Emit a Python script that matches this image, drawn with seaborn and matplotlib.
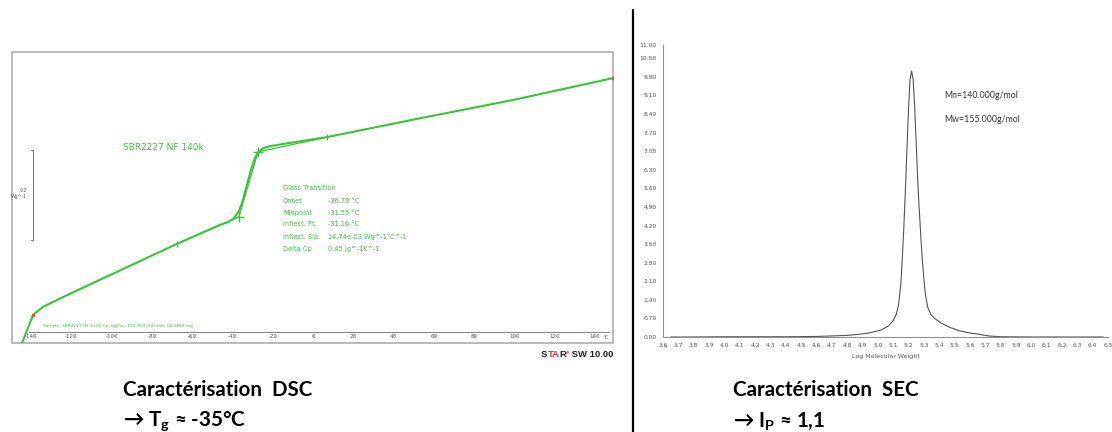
import numpy as np
import pandas as pd
import matplotlib
matplotlib.use("Agg")
import matplotlib.pyplot as plt
from matplotlib.lines import Line2D
from matplotlib.patches import Rectangle
import seaborn as sns

# ---------------- data ----------------
# DSC curve: temperature (°C) and heat flow (W/g, arbitrary offset)
dsc_temp = [-144.5, -142.0, -139.0, -134.1, -122.1, -105.8, -67.5, -46.2, -42.2,
            -39.2, -36.7, -34.8, -32.8, -30.8, -28.8, -26.8, -24.3, -21.4, 7.0,
            50.0, 100.0, 149.0]
dsc_heat = [-0.024, 0.004, 0.038, 0.056, 0.082, 0.116, 0.196, 0.238, 0.244,
            0.253, 0.269, 0.293, 0.327, 0.360, 0.387, 0.402, 0.409, 0.413, 0.433,
            0.472, 0.516, 0.564]
# Tangent construction (baseline before, inflection tangent, baseline after)
tan_temp = [-67.5, -36.79, -27.3, 7.0]
tan_heat = [0.196, 0.256, 0.400, 0.433]
limit_temp = [-67.5, 7.0]
limit_heat = [0.196, 0.433]
dsc_xticks = list(range(-140, 141, 20))
scale_bar = 0.2  # W/g
gt_labels = ["Glass Transition", "Onset", "Midpoint", "Inflect. Pt.", "Inflect. Slp.", "Delta Cp"]
gt_values = ["", "-36.79 °C", "-31.55 °C", "-31.16 °C", "14.74e-03 Wg^-1°C^-1", "0.45 Jg^-1K^-1"]

# SEC curve: log molecular weight and detector response
sec_logm = [3.65, 3.8, 4.0, 4.2, 4.4, 4.6, 4.7, 4.8, 4.89, 4.95, 5.02, 5.07, 5.10,
            5.12, 5.135, 5.15, 5.16, 5.17, 5.18, 5.19, 5.20, 5.21, 5.22, 5.23,
            5.24, 5.25, 5.26, 5.27, 5.28, 5.29, 5.30, 5.31, 5.325, 5.345, 5.37,
            5.41, 5.47, 5.54, 5.60, 5.65, 5.72, 5.80, 6.0, 6.2, 6.47]
sec_resp = [0.0, 0.0, 0.01, 0.01, 0.01, 0.02, 0.04, 0.06, 0.11, 0.16, 0.26, 0.42, 0.62,
            0.85, 1.2, 2.0, 3.0, 4.2, 5.6, 7.1, 8.6, 9.7, 10.02, 9.7,
            8.7, 7.3, 5.9, 4.8, 3.8, 2.9, 2.2, 1.6, 1.13, 0.85, 0.70,
            0.53, 0.36, 0.22, 0.15, 0.11, 0.04, 0.01, 0.0, 0.0, 0.0]
sec_xticks = [round(3.6 + 0.1 * i, 1) for i in range(30)]
sec_yticks = [round(0.7 * i, 2) for i in range(16)] + [11.0]

# ---------------- style ----------------
sns.set_style("white")
plt.rcParams["font.family"] = ["DejaVu Sans"]
plt.rcParams["mathtext.fontset"] = "custom"
plt.rcParams["mathtext.rm"] = "Lato:bold"
plt.rcParams["mathtext.default"] = "rm"

W, H = 1112, 432
fig = plt.figure(figsize=(W / 100, H / 100), dpi=100)
green = "#3ac43a"

# ---------------- DSC panel ----------------
ax1 = fig.add_axes([12 / W, (H - 343) / H, 601 / W, 291 / H])
ax1.set_xlim(-149.5, 149)
ax1.set_ylim(-0.0244, 0.622)
sns.lineplot(x=dsc_temp, y=dsc_heat, ax=ax1, color=green, lw=1.5, sort=False,
             estimator=None)
sns.lineplot(x=tan_temp, y=tan_heat, ax=ax1, color=green, lw=0.9, sort=False,
             estimator=None)
ax1.plot(tan_temp[1:3], tan_heat[1:3], ls="none", marker="+", ms=7, mew=1.0, color=green)
ax1.plot(limit_temp, limit_heat, ls="none", marker="|", ms=4, mew=0.8, color=green)
ax1.plot([dsc_temp[2], dsc_temp[-1]], [dsc_heat[2], dsc_heat[-1]], ls="none",
         marker="o", ms=1.5, color="#e05030")

# scale bar
sx = -139
y0, y1 = 0.204, 0.204 + scale_bar
ax1.plot([sx - 1.2, sx, sx, sx - 1.2], [y0, y0, y1, y1], color="#777777", lw=0.7)
ax1.text(sx - 3, (y0 + y1) / 2 + 0.01, "0.2", fontsize=3.3, color="#555555",
         ha="right", va="center")
ax1.text(sx - 3, (y0 + y1) / 2 - 0.002, "Wg^-1", fontsize=3.3, color="#555555",
         ha="right", va="center")

# inner temperature axis
for s in ["top", "right", "left"]:
    ax1.spines[s].set_visible(False)
ax1.spines["bottom"].set_position(("data", 0))
ax1.spines["bottom"].set_bounds(-141, 147)
ax1.spines["bottom"].set_color("#888888")
ax1.spines["bottom"].set_linewidth(0.8)
ax1.set_xticks(dsc_xticks)
ax1.set_xticklabels([str(t) for t in dsc_xticks])
ax1.set_xticks([t + 10 for t in dsc_xticks[:-1]], minor=True)
ax1.set_yticks([])
ax1.tick_params(axis="x", which="both", direction="in", length=3, width=0.6,
                color="#888888", labelsize=4, labelcolor="#555555", pad=1.5)
ax1.tick_params(axis="x", which="minor", length=2)
ax1.text(145.5, -0.0115, "°C", fontsize=4, color="#555555", ha="center", va="center")
ax1.add_patch(Rectangle((0, 0), 1, 1, transform=ax1.transAxes, fill=False,
                        ec="#b4b4b4", lw=1.3, clip_on=False))
ax1.set_xlabel("")
ax1.set_ylabel("")

ax1.text(-94.3, 0.409, "SBR2227 NF 140k", fontsize=6.5, color=green, ha="left", va="center")
ax1.text(-134, 0.013, "Sample: SBR2227 NF 140k Cp_UgDw_-150-150_20°min, 18,5000 mg",
         fontsize=3.15, color=green, ha="left", va="center")
gt_y = [0.320, 0.291, 0.264, 0.240, 0.211, 0.184]
for lab, val, yy in zip(gt_labels, gt_values, gt_y):
    ax1.text(-14.9, yy, lab, fontsize=4.8, color=green, ha="left", va="center")
    if val:
        ax1.text(7.4, yy, val, fontsize=4.8, color=green, ha="left", va="center")

# STAR SW 10.00 logo text
logo_font = ["Liberation Sans", "DejaVu Sans"]
first = fig.text(541 / W, 1 - 357 / H, "S", fontsize=6.8, color="#222222",
                 weight="bold", family=logo_font, va="baseline", ha="left")
prev = first
for txt, col, fs, sup in [("TA", "#e0302a", 6.8, 0), ("R", "#222222", 6.8, 0),
                          ("e", "#e0302a", 4.0, 1), (" SW 10.00", "#222222", 6.8, 0)]:
    prev = ax1.annotate(txt, xy=(1, 0), xycoords=(prev, first),
                        xytext=(0, 3.2 if sup else 0), textcoords="offset points",
                        fontsize=fs, color=col, weight="bold", family=logo_font,
                        va="bottom", ha="left", annotation_clip=False)

# ---------------- SEC panel ----------------
ax2 = fig.add_axes([663 / W, (H - 337) / H, 445 / W, 292 / H])
sns.lineplot(x=sec_logm, y=sec_resp, ax=ax2, color="#555555", lw=0.8, sort=False,
             estimator=None, clip_on=False)
ax2.set_xlim(3.6, 6.5)
ax2.set_ylim(0, 11)
for s in ["top", "right"]:
    ax2.spines[s].set_visible(False)
for s in ["left", "bottom"]:
    ax2.spines[s].set_color("#909090")
    ax2.spines[s].set_linewidth(0.8)
ax2.set_xticks(sec_xticks)
ax2.set_xticklabels([f"{v:.1f}" for v in sec_xticks])
ax2.set_yticks(sec_yticks)
ax2.set_yticklabels([f"{v:.2f}" for v in sec_yticks])
ax2.tick_params(axis="both", direction="out", length=3, width=0.6, color="#909090",
                labelsize=4.3, labelcolor="#555555", pad=1.5)
ax2.set_xlabel("Log Molecular Weight", fontsize=4.5, color="#555555", labelpad=4)
ax2.set_ylabel("")
ax2.text(5.43, 9.08, "Mn=140.000g/mol", fontsize=6.3, color="#333333",
         family=["Lato", "DejaVu Sans"], ha="left", va="center")
ax2.text(5.43, 8.21, "Mw=155.000g/mol", fontsize=6.3, color="#333333",
         family=["Lato", "DejaVu Sans"], ha="left", va="center")

# ---------------- divider & captions ----------------
fig.add_artist(Line2D([633 / W, 633 / W], [0, 1 - 10 / H], color="black", lw=1.6))

cap_font = dict(fontsize=14.8, weight="bold", color="black", family=["Lato", "DejaVu Sans"],
                ha="left", va="center")
fig.text(123 / W, 1 - 390 / H, "Caractérisation  DSC", **cap_font)
fig.text(123 / W, 1 - 421 / H, "→ T$_{g}$ ≈ -35°C", **cap_font)
fig.text(733 / W, 1 - 390 / H, "Caractérisation  SEC", **cap_font)
fig.text(733 / W, 1 - 421 / H, "→ I$_{P}$ ≈ 1,1", **cap_font)

fig.savefig("out.png", dpi=100)
